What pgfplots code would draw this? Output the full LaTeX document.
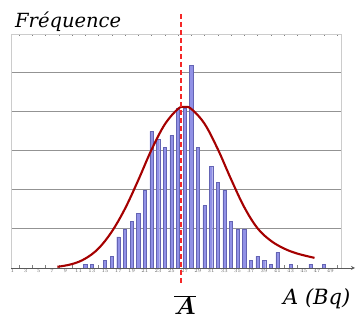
\documentclass[border=0pt]{standalone}
\usepackage{pgfplots}
\pgfplotsset{compat=1.18}
\usepackage{pgfplotstable}
\usepackage{bm}
\usepackage{fontspec}
\setmainfont{DejaVu Serif}
\definecolor{barfill}{RGB}{145,145,230}
\definecolor{baredge}{RGB}{100,100,180}
\definecolor{curvered}{RGB}{165,0,0}
\definecolor{meanred}{RGB}{245,40,40}
\pgfplotstableread{
v c
12 1
13 1
15 2
16 3
17 8
18 10
19 12
20 14
21 20
22 35
23 33
24 31
25 34
26 41
27 41
28 52
29 31
30 16
31 26
32 22
33 20
34 12
35 10
36 10
37 2
38 3
39 2
40 1
41 4
43 1
46 1
48 1
}\bars
\pgfplotstableread{
v c
7.8 0.3
10 1.0
12 2.4
14 5.0
16 9.3
18 15.2
20 22.5
22 30.3
24 36.8
26 40.8
27 41.3
28 40.8
30 37.0
32 30.5
34 22.8
36 15.6
38 10.2
40 7.0
42 5.0
44 3.7
46.6 2.6
}\curve
\begin{document}
\begin{tikzpicture}
\useasboundingbox (0,0) rectangle (356pt,320pt);
\begin{axis}[
  at={(11pt,52pt)}, anchor=south west,
  scale only axis, width=330pt, height=234pt,
  xmin=0.8, xmax=50.6, ymin=0, ymax=60,
  axis line style={draw=gray!40, line width=0.8pt},
  ytick={10,20,30,40,50}, yticklabels={},
  major tick length=0pt,
  ymajorgrids, grid style={draw=gray!85, line width=1pt},
  xtick={1,3,...,49},
  minor xtick={2,4,...,50},
  minor tick length=2.5pt,
  every x tick/.style={draw=gray},
  xticklabel style={font=\fontsize{5}{5}\selectfont, text=gray!80!black, inner sep=1pt},
  clip=false,
]
\addplot[ybar, bar width=3.2pt, fill=barfill, draw=baredge, line width=0.4pt] table[x=v,y=c] {\bars};
\addplot[smooth, curvered, line width=2.1pt, tension=0.6] table[x=v,y=c] {\curve};
\addplot[meanred, line width=1.5pt, dash pattern=on 5pt off 3pt] coordinates {(26.45,-3.8) (26.45,65)};
\end{axis}
\draw[gray!70!black, line width=0.8pt, -stealth] (11pt,52pt) -- (355pt,52pt);
\node[anchor=base west, inner sep=0pt, font=\fontsize{19.5}{19.5}\selectfont\itshape] at (15pt,292pt) {Fréquence};
\node[anchor=base west, inner sep=0pt, font=\fontsize{21}{21}\selectfont\itshape] at (283pt,15pt) {A (Bq)};
\node[anchor=base, inner sep=0pt, font=\fontsize{24}{24}\selectfont] at (185pt,5pt) {$\bm{\overline{A}}$};
\end{tikzpicture}
\end{document}
